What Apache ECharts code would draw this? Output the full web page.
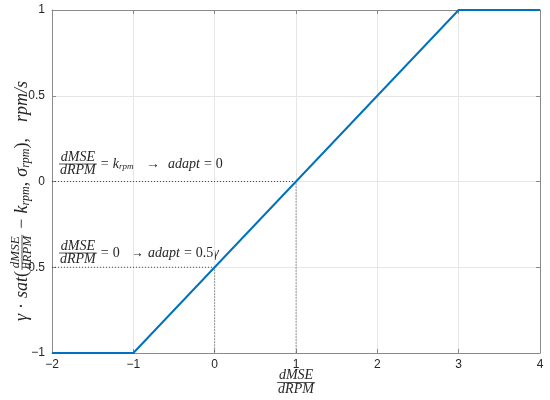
<!DOCTYPE html>
<html><head><meta charset="utf-8">
<script src="https://cdn.jsdelivr.net/npm/echarts@6/dist/echarts.min.js"></script>
<style>html,body{margin:0;padding:0;background:#fff}#c{width:550px;height:400px}</style>
</head><body><div id="c"></div>
<script>
const xTicks = [-2, -1, 0, 1, 2, 3, 4];
const yTicks = [-1, -0.5, 0, 0.5, 1];
const satX = [-2, -1, 3, 4];
const satY = [-1, -1, 1, 1];
const guide1X = [-2, 1, 1];
const guide1Y = [0, 0, -1];
const guide2X = [-2, 0, 0];
const guide2Y = [-0.5, -0.5, -1];

const SERIF = '"Liberation Serif", "Times New Roman", serif';
const INK = '#262626';
const cv = document.createElement('canvas').getContext('2d');
function tw(text, size, italic) {
  cv.font = (italic ? 'italic ' : '') + size + 'px ' + SERIF;
  return cv.measureText(text).width;
}
function txt(t, x, y, size, italic, align) {
  return {type: 'text', x: x, y: y, silent: true, style: {
    text: t, fontFamily: SERIF, fontSize: size, fontStyle: italic ? 'italic' : 'normal',
    fill: INK, align: align || 'left', verticalAlign: 'middle'}};
}
function run(tokens, x0, y0) {
  let x = x0; const els = [];
  tokens.forEach(k => {
    if (k.frac) {
      const w = Math.max(tw(k.num, k.s, true), tw(k.den, k.s, true)) + 2;
      const cx = x + w / 2 + 1;
      els.push(txt(k.num, cx, y0 - k.g, k.s, true, 'center'));
      els.push(txt(k.den, cx, y0 + k.g, k.s, true, 'center'));
      els.push({type: 'line', silent: true, shape: {x1: x + 1, y1: y0, x2: x + w + 1, y2: y0},
        style: {stroke: INK, lineWidth: 0.8}});
      x += w + 2;
    } else if (k.gap) {
      x += k.gap;
    } else {
      const it = k.it !== false;
      els.push(txt(k.t, x, y0 + (k.dy || 0), k.s, it, 'left'));
      x += tw(k.t, k.s, it);
    }
  });
  return {els: els, w: x - x0};
}
const F = (n, d, s, g) => ({frac: true, num: n, den: d, s: s, g: g});
const T = (t, s, it, dy) => ({t: t, s: s, it: it, dy: dy});
const G = g => ({gap: g});

const graphics = [];
// annotation 1
graphics.push(...run([F('dMSE', 'dRPM', 14, 6.5), G(3), T('=', 14, false), G(4), T('k', 14), T('rpm', 9, true, 3)], 58, 164).els);
graphics.push(...run([T('→', 14, false)], 146, 164).els);
graphics.push(...run([T('adapt', 14), G(4), T('=', 14, false), G(4), T('0', 14, false)], 168, 164).els);
// annotation 2
graphics.push(...run([F('dMSE', 'dRPM', 14, 6.5), G(3), T('=', 14, false), G(4), T('0', 14, false)], 58, 253).els);
graphics.push(...run([T('→', 14, false)], 130, 253).els);
graphics.push(...run([T('adapt', 14), G(4), T('=', 14, false), G(4), T('0.5', 14, false), T('γ', 14)], 148, 253).els);
// x label
{
  const toks = [F('dMSE', 'dRPM', 14, 7)];
  const r0 = run(toks, 0, 0);
  graphics.push(...run(toks, 296 - r0.w / 2, 382.5).els);
}
// y label (rotated)
{
  const S = 18, s = 13, ss = 12;
  const toks = [T('γ', S), G(5), T('·', S, false), G(5), T('sat', S), T('(', S, false),
    F('dMSE', 'dRPM', s, 6), G(5), T('−', S, false), G(5), T('k', S), T('rpm', ss, true, 4),
    T(',', S, false), G(5), T('σ', S), T('rpm', ss, true, 4), T(')', S, false), T(',', S, false), G(16),
    T('rpm/s', S)];
  const r0 = run(toks, 0, 0);
  const r = run(toks, -r0.w / 2, 0);
  graphics.push({type: 'group', x: 22, y: 201, rotation: Math.PI / 2, children: r.els});
}

const fmt = v => String(v).replace('-', '\u2212');
const axLine = {show: true, onZero: false, lineStyle: {color: '#8a8a8a', width: 1}};
const axTick = {show: true, inside: true, length: 4, lineStyle: {color: '#8a8a8a'}};
const lab = {color: INK, fontSize: 12, fontFamily: '"Liberation Sans", Arial, sans-serif', formatter: fmt};
const xr = {min: xTicks[0], max: xTicks[xTicks.length - 1], interval: xTicks[1] - xTicks[0]};
const yr = {min: yTicks[0], max: yTicks[yTicks.length - 1], interval: yTicks[1] - yTicks[0]};

const chart = echarts.init(document.getElementById('c'), null, {renderer: 'canvas'});
chart.setOption({
  animation: false,
  grid: {left: 52, right: 10, top: 10, bottom: 47, containLabel: false},
  xAxis: [
    Object.assign({type: 'value', position: 'bottom', axisLine: axLine, axisTick: axTick,
      axisLabel: Object.assign({margin: 6}, lab),
      splitLine: {show: true, lineStyle: {color: '#e6e6e6', width: 1}}}, xr),
    Object.assign({type: 'value', position: 'top', axisLine: axLine, axisTick: axTick,
      axisLabel: {show: false}, splitLine: {show: false}}, xr)
  ],
  yAxis: [
    Object.assign({type: 'value', position: 'left', axisLine: axLine, axisTick: axTick,
      axisLabel: Object.assign({margin: 7}, lab),
      splitLine: {show: true, lineStyle: {color: '#e6e6e6', width: 1}}}, yr),
    Object.assign({type: 'value', position: 'right', axisLine: axLine, axisTick: axTick,
      axisLabel: {show: false}, splitLine: {show: false}}, yr)
  ],
  series: [
    {type: 'line', silent: true, symbol: 'none', clip: false, z: 3,
      lineStyle: {color: INK, width: 0.8, type: [1, 2]},
      data: guide1X.map((x, i) => [x, guide1Y[i]])},
    {type: 'line', silent: true, symbol: 'none', clip: false, z: 3,
      lineStyle: {color: INK, width: 0.8, type: [1, 2]},
      data: guide2X.map((x, i) => [x, guide2Y[i]])},
    {type: 'line', silent: true, symbol: 'none', clip: false, z: 4,
      lineStyle: {color: '#0072BD', width: 2},
      data: satX.map((x, i) => [x, satY[i]])}
  ],
  graphic: graphics
});
</script></body></html>
